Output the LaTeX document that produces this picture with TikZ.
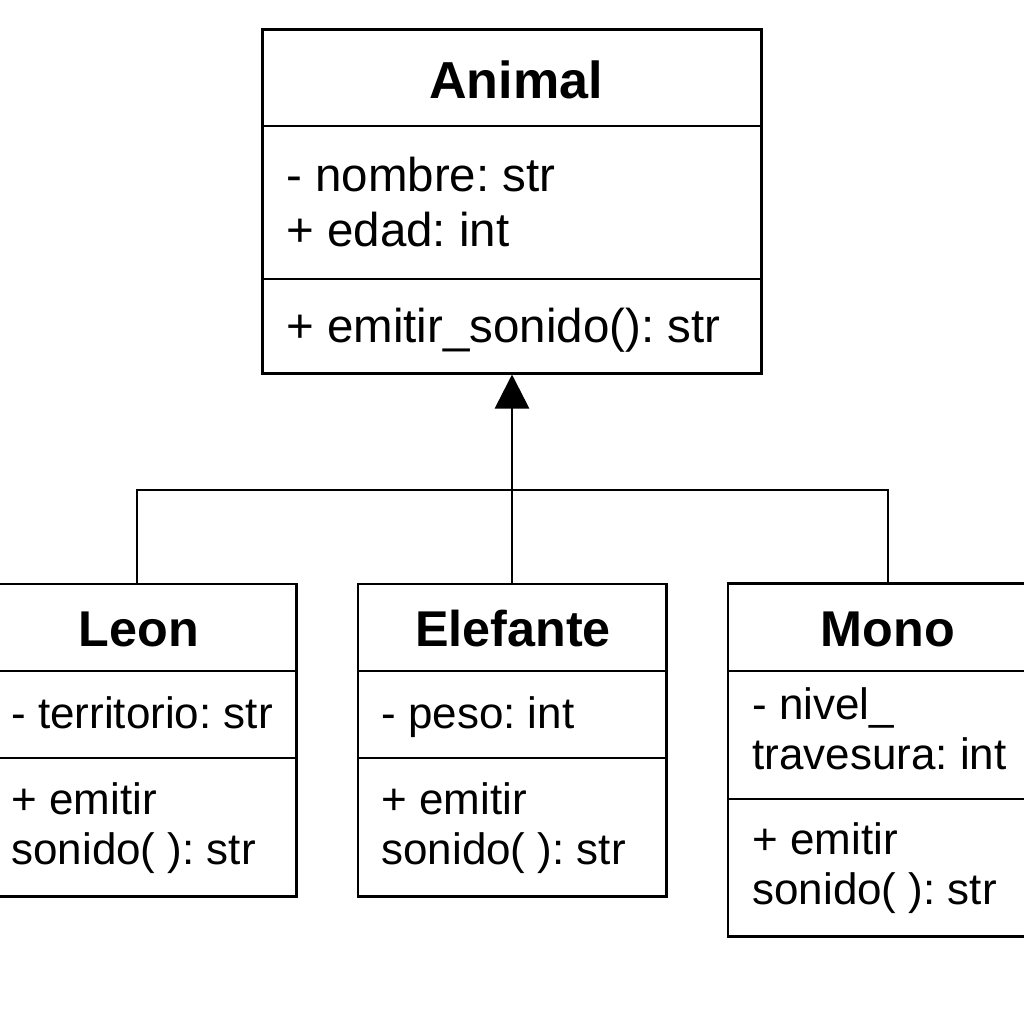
\documentclass[tikz,border=0pt]{standalone}
\usepackage{fontspec}
\setmainfont{Liberation Sans}
\usetikzlibrary{arrows.meta}
\frenchspacing

\begin{document}
\begin{tikzpicture}[x=0.01cm, y=-0.01cm, line width=0.8pt,
    classbox/.style={draw, rectangle, inner sep=0pt},
    classname/.style={anchor=base, inner sep=0pt, font=\fontsize{14.3}{17}\selectfont\bfseries},
    member/.style={anchor=base west, inner sep=0pt, font=\fontsize{12.5}{15}\selectfont},
    inherit/.style={-{Triangle[width=0.34cm, length=0.34cm]}}]
    \useasboundingbox (0,0) rectangle (1024,1024);
    \clip (0,0) rectangle (1024,1024);
    % Animal
    \node[classbox, minimum width=4.98cm, minimum height=3.43cm] (animal) at (512,201.5) {};
    \draw (263,126) -- (761,126); \draw (263,279) -- (761,279);
    \node[classname, font=\fontsize{14.8}{17}\selectfont\bfseries] (animalname) at (516,98) {Animal};
    \node[member, font=\fontsize{13.5}{16}\selectfont] (animalnombre) at (285,191) {- nombre: str};
    \node[member, font=\fontsize{13.5}{16}\selectfont] (animaledad) at (285,246) {+ edad: int};
    \node[member, font=\fontsize{13.5}{16}\selectfont] (animalsonido) at (285,342) {+ emitir\_sonido(): str};
    % Leon
    \node[classbox, minimum width=3.18cm, minimum height=3.12cm] (leon) at (137,740) {};
    \draw (-22,671) -- (296,671); \draw (-22,758) -- (296,758);
    \node[classname] (leonname) at (139,646) {Leon};
    \node[member] (leonterritorio) at (10,728) {- territorio: str};
    \node[member] (leonemitir) at (10,814) {+ emitir}; \node[member] (leonsonido) at (10,864) {sonido( ): str};
    % Elefante
    \node[classbox, minimum width=3.08cm, minimum height=3.12cm] (elefante) at (512,740) {};
    \draw (358,671) -- (666,671); \draw (358,758) -- (666,758);
    \node[classname] (elefantename) at (513,646) {Elefante};
    \node[member] (elefantepeso) at (380,728) {- peso: int};
    \node[member] (elefanteemitir) at (380,814) {+ emitir}; \node[member] (elefantesonido) at (380,864) {sonido( ): str};
    % Mono
    \node[classbox, minimum width=3.20cm, minimum height=3.52cm] (mono) at (888,760) {};
    \draw (728,671) -- (1048,671); \draw (728,799) -- (1048,799);
    \node[classname] (mononame) at (888,646) {Mono};
    \node[member] (mononivel) at (751,719) {- nivel\_}; \node[member] (monotravesura) at (751,769) {travesura: int};
    \node[member] (monoemitir) at (751,854) {+ emitir}; \node[member] (monosonido) at (751,904) {sonido( ): str};
    % herencia
    \coordinate (join) at (512,490);
    \draw[inherit] (elefante.north) -- (animal.south);
    \draw (leon.north) |- (join) -| (mono.north);
\end{tikzpicture}
\end{document}
